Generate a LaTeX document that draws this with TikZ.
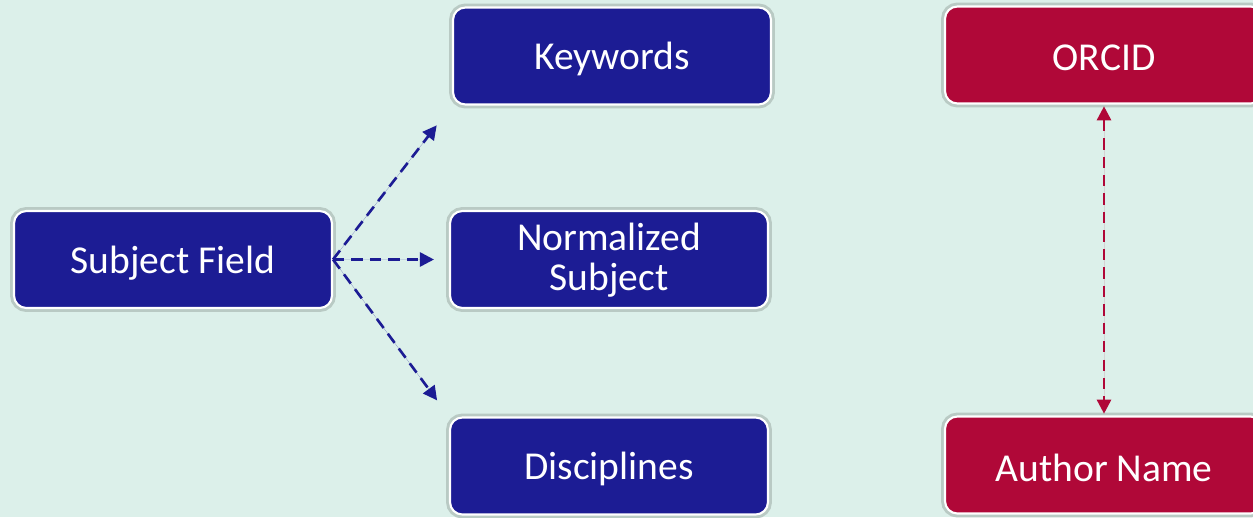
\documentclass[tikz,border=0pt]{standalone}
\usepackage{fontspec}
\setmainfont{Carlito}
\usepackage{xcolor}
\usepackage{tikz}
\usetikzlibrary{arrows.meta, calc, positioning}

\definecolor{bgmint}{HTML}{DCF0EA}
\definecolor{fieldblue}{HTML}{1C1C94}
\definecolor{authorred}{HTML}{B00838}
\definecolor{halo}{HTML}{B9CAC4}

% text sits a little low in its box
\newcommand{\lowtext}[1]{\raisebox{-1.8pt}[\height][\depth]{#1}}

\begin{document}
\begin{tikzpicture}[x=0.02cm, y=-0.02cm, >={Triangle[length=8pt,width=8pt]}, thick]
    % Define box style locally
    \tikzstyle{field} = [rectangle, rounded corners=7pt, draw=white, line width=1.2pt,
        fill=fieldblue, text=white, minimum width=6.36cm, minimum height=1.94cm,
        align=center, font=\fontsize{22.5}{22.5}\selectfont,
        preaction={draw=halo, line width=4.5pt}]
    \tikzstyle{author} = [field, fill=authorred]
    \tikzstyle{link} = [->, dashed, dash pattern=on 6.5pt off 4pt, line width=1.5pt]

    % Canvas
    \useasboundingbox (0,0) rectangle (1253,517);
    \clip (0,0) rectangle (1253,517);
    \fill[bgmint] (0,0) rectangle (1253,517);

    % Subject side
    \node[field] (SF) at (173,259.5) {\lowtext{Subject Field}};
    \node[field] (NS) at (609,259.5) {\lowtext{\begin{tabular}{@{}c@{}}Normalized\\Subject\end{tabular}}};
    \node[field] (KW) at (612,56) {\lowtext{Keywords}};
    \node[field] (DI) at (609,466) {\lowtext{Disciplines}};

    % Author side
    \node[author] (OR) at (1104,55) {\lowtext{ORCID}};
    \node[author] (AN) at (1104,465) {\lowtext{Author Name}};

    % Subject Field -> targets
    \draw[link, draw=fieldblue, fill=fieldblue, shorten >=0.5cm] (SF.east) -- (KW.south west);
    \draw[link, draw=fieldblue, fill=fieldblue, shorten >=0.3cm] (SF.east) -- (NS.west);
    \draw[link, draw=fieldblue, fill=fieldblue, shorten >=0.4cm] (SF.east) -- (DI.north west);

    % ORCID <-> Author Name
    \draw[link, <->, draw=authorred, fill=authorred, shorten <=1pt, shorten >=1pt] (OR.south) -- (AN.north);

\end{tikzpicture}
\end{document}
